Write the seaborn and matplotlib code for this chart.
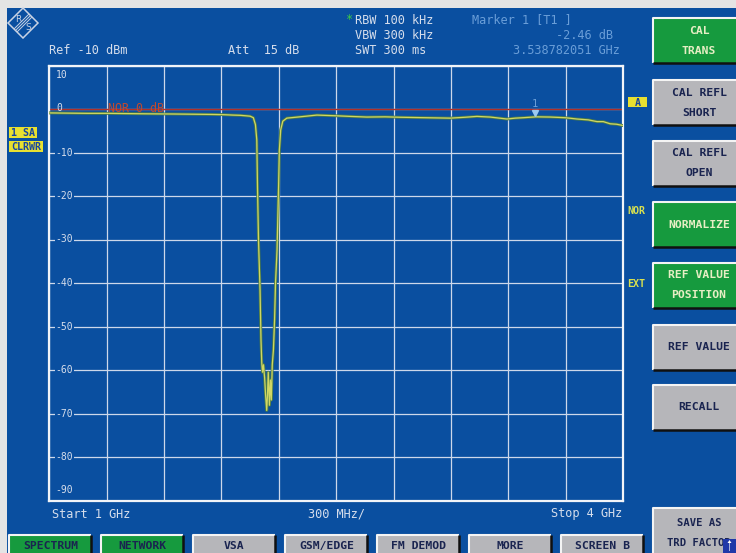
import numpy as np
import matplotlib
matplotlib.use("Agg")
import matplotlib.pyplot as plt
import matplotlib.patheffects as pe
from matplotlib.patches import Rectangle, Polygon, FancyArrow
from matplotlib.transforms import blended_transform_factory
import seaborn as sns

# trace (frequency in GHz, level in dB)
freq_ghz = [1.000, 1.004, 1.10, 1.20, 1.302, 1.40, 1.50, 1.647, 1.75, 1.85,
            1.909, 1.96, 1.998, 2.025, 2.050, 2.067, 2.078, 2.085, 2.089, 2.094,
            2.102, 2.107, 2.111, 2.115, 2.120, 2.126, 2.131, 2.137, 2.141, 2.145,
            2.151, 2.156, 2.161, 2.166, 2.172, 2.178, 2.183, 2.191, 2.196, 2.199,
            2.203, 2.210, 2.221, 2.242, 2.311, 2.399, 2.494, 2.573, 2.660, 2.756,
            2.835, 2.965, 3.096, 3.174, 3.236, 3.305, 3.393, 3.437, 3.478, 3.546,
            3.619, 3.698, 3.759, 3.819, 3.864, 3.897, 3.933, 3.966, 4.000]
level_db = [-0.9, -0.9, -0.95, -1.0, -1.0, -1.05, -1.1, -1.15, -1.2, -1.25,
            -1.3, -1.4, -1.45, -1.55, -1.65, -2.0, -3.6, -7.1, -18.6, -30.1,
            -41.6, -53.1, -58.4, -60.5, -58.8, -61.8, -65.7, -69.3, -65.7, -60.5,
            -68.1, -62.3, -66.9, -58.8, -55.4, -48.5, -40.0, -32.4, -23.2, -17.9,
            -9.4, -4.8, -2.8, -2.1, -1.8, -1.4, -1.55, -1.7, -1.85, -1.8,
            -1.9, -2.0, -2.1, -1.9, -1.7, -1.85, -2.3, -2.1, -2.0, -1.8,
            -1.85, -2.0, -2.3, -2.5, -2.9, -2.9, -3.4, -3.5, -3.8]

y_ticks = [10, 0, -10, -20, -30, -40, -50, -60, -70, -80, -90]
x_ticks = [1.0, 1.3, 1.6, 1.9, 2.2, 2.5, 2.8, 3.1, 3.4, 3.7, 4.0]
marker_freq = 3.538782051
ref_level = 0

side_keys = [["CAL", "TRANS"], ["CAL REFL", "SHORT"], ["CAL REFL", "OPEN"],
             ["NORMALIZE"], ["REF VALUE", "POSITION"], ["REF VALUE"],
             ["RECALL"], ["SAVE AS", "TRD FACTOR"]]
side_green = [True, False, False, True, True, False, False, False]
bottom_keys = ["SPECTRUM", "NETWORK", "VSA", "GSM/EDGE", "FM DEMOD", "MORE", "SCREEN B"]
bottom_green = [True, True, False, False, False, False, False]

BLUE = "#0a4fa0"
GRAY_BORDER = "#e4e4e4"
TXT = "#d6deec"
LBLUE = "#6a9ed8"
YEL = "#e8e030"
KEY_GRAY = "#b6b6ba"
KEY_GREEN = "#169a3e"
MONO = ["DejaVu Sans Mono"]

W, H = 736, 553
fig = plt.figure(figsize=(W / 100, H / 100), dpi=100)
fig.patch.set_facecolor(GRAY_BORDER)

# screen furniture drawn in pixel coordinates
ui = fig.add_axes([0, 0, 1, 1], zorder=0)
ui.set_xlim(0, W)
ui.set_ylim(H, 0)
ui.axis("off")
ui.add_patch(Rectangle((7, 8), W - 7, H - 8, color=BLUE, lw=0))


def key(x, y, w, h, green, lines, dark_text=False, fsize=8.2):
    ui.add_patch(Rectangle((x, y), w, h, color=KEY_GREEN if green else KEY_GRAY, lw=0))
    ui.plot([x, x, x + w], [y + h, y, y], color="#f4f4f4", lw=1.5, solid_capstyle="butt")
    ui.plot([x, x + w, x + w], [y + h, y + h, y], color="#101010", lw=1.8, solid_capstyle="butt")
    if green and not dark_text:
        col = "#e6eec4"
    else:
        col = "#1a2450"
    cy = y + h / 2
    offs = [0] if len(lines) == 1 else [-10, 10]
    for ln, o in zip(lines, offs):
        ui.text(x + w / 2 + 1, cy + o, ln, ha="center", va="center", color=col,
                fontsize=fsize, fontweight="bold", family=MONO)


side_tops = [18, 80, 141, 202, 263, 325, 385, 508]
for top, lines, g in zip(side_tops, side_keys, side_green):
    if top == 508:
        key(653, top, 90, 50, g, lines, fsize=7.6)
    else:
        key(653, top, 90, 45, g, lines)
# small scroll arrow box in the corner
ui.add_patch(Rectangle((723, 539), 13, 14, color="#2038a8", lw=0, zorder=5))
ui.add_patch(FancyArrow(729.5, 551, 0, -8, width=0.6, head_width=4, head_length=3,
                        color="white", lw=0, zorder=6))

for i, (lab, g) in enumerate(zip(bottom_keys, bottom_green)):
    key(8.5 + 92 * i, 535, 82, 22, g, [lab], dark_text=True)

# R&S logo
cx, cy, r = 23, 23, 15
ui.add_patch(Polygon([[cx, cy - r], [cx + r, cy], [cx, cy + r], [cx - r, cy]],
                     closed=True, fill=False, ec="#c8d2e4", lw=1.1))
for d in (-1.5, 0, 1.5):
    ui.plot([cx - 7 + d, cx + 7 + d], [cy + 7 + d, cy - 7 + d], color="#c8d2e4", lw=0.7)
ui.text(cx - 5, cy - 4, "R", color="#c8d2e4", fontsize=6.5, ha="center", va="center")
ui.text(cx + 5, cy + 5, "S", color="#c8d2e4", fontsize=6.5, ha="center", va="center")

# header texts
fs = 8.6
ui.text(49, 51, "Ref -10 dBm", color=TXT, fontsize=fs, va="center", family=MONO)
ui.text(228, 51, "Att  15 dB", color=TXT, fontsize=fs, va="center", family=MONO)
ui.text(349, 20, "*", color="#40d040", fontsize=fs, va="center", ha="center", family=MONO)
ui.text(355, 20, "RBW 100 kHz", color=TXT, fontsize=fs, va="center", family=MONO)
ui.text(355, 35.5, "VBW 300 kHz", color=TXT, fontsize=fs, va="center", family=MONO)
ui.text(355, 51, "SWT 300 ms", color=TXT, fontsize=fs, va="center", family=MONO)
ui.text(472, 20, "Marker 1 [T1 ]", color=LBLUE, fontsize=fs, va="center", family=MONO)
ui.text(613, 35.5, "-2.46 dB", color=LBLUE, fontsize=fs, va="center", ha="right", family=MONO)
ui.text(620, 51, "3.538782051 GHz", color=LBLUE, fontsize=fs, va="center", ha="right", family=MONO)

# footer texts
ui.text(52, 514, "Start 1 GHz", color=TXT, fontsize=fs, va="center", family=MONO)
ui.text(336, 514, "300 MHz/", color=TXT, fontsize=fs, va="center", ha="center", family=MONO)
ui.text(622, 514, "Stop 4 GHz", color=TXT, fontsize=fs, va="center", ha="right", family=MONO)

# side labels
for txt, (x0, y0, x1, y1) in [("1 SA", (9, 127, 37, 138)), ("CLRWR", (9, 141, 43, 152)),
                               ("A", (628, 97, 647, 107))]:
    ui.add_patch(Rectangle((x0, y0), x1 - x0, y1 - y0, color=YEL, lw=0))
    ui.text((x0 + x1) / 2, (y0 + y1) / 2 + 0.5, txt, ha="center", va="center",
            color="#1646a0", fontsize=7.2, fontweight="bold", family=MONO)
ui.text(627, 211, "NOR", color="#d8e050", fontsize=7.2, fontweight="bold", va="center", family=MONO)
ui.text(627, 284, "EXT", color="#d8e050", fontsize=7.2, fontweight="bold", va="center", family=MONO)

# measurement diagram
left, right, top, bottom = 49.3, 623, 65.5, 500.5
ax = fig.add_axes([left / W, 1 - bottom / H, (right - left) / W, (bottom - top) / H], zorder=1)
ax.set_facecolor("none")
ax.set_xlim(1, 4)
ax.set_ylim(-90, 10)
ax.set_xticks(x_ticks)
ax.set_yticks(y_ticks)
ax.tick_params(length=0, labelbottom=False, labelleft=False)
ax.grid(True, color="#cdd8ea", lw=0.9)
for s in ax.spines.values():
    s.set_color("#f2f4f8")
    s.set_linewidth(1.6)

ax.axhline(ref_level, color="#b03028", lw=1, zorder=2)
ax.text(1.307, ref_level, "NOR 0 dB", color="#c04a30", fontsize=8.4, va="center", family=MONO, zorder=2)

sns.lineplot(x=freq_ghz, y=level_db, ax=ax, estimator=None, sort=False,
             color="#d0d664", lw=0.9, zorder=4,
             path_effects=[pe.Stroke(linewidth=2.1, foreground="#4a7a48"), pe.Normal()])

mk_level = np.interp(marker_freq, freq_ghz, level_db)
ax.plot([marker_freq], [mk_level + 0.9], marker="v", ms=5, color="#9ccaf0", zorder=5, ls="none")
ax.text(marker_freq, mk_level + 3.0, "1", color=LBLUE, fontsize=7.5, ha="center", va="center", family=MONO)

tr = blended_transform_factory(ax.transAxes, ax.transData)
for v in y_ticks:
    if v == 10:
        ax.text(0.011, 7.8, "10", transform=tr, color=TXT, fontsize=7, va="center", family=MONO)
    elif v == -90:
        ax.text(0.011, -87.6, "-90", transform=tr, color=TXT, fontsize=7, va="center", family=MONO)
    elif v == 0:
        ax.text(0.013, 0.2, "0", transform=tr, color=TXT, fontsize=7, va="center", family=MONO, zorder=3)
    else:
        ax.text(0.011, v, str(v), transform=tr, color=TXT, fontsize=7, va="center", family=MONO,
                bbox=dict(fc=BLUE, ec="none", pad=0.6), zorder=3)

fig.savefig("out.png", dpi=100, facecolor=fig.get_facecolor())
